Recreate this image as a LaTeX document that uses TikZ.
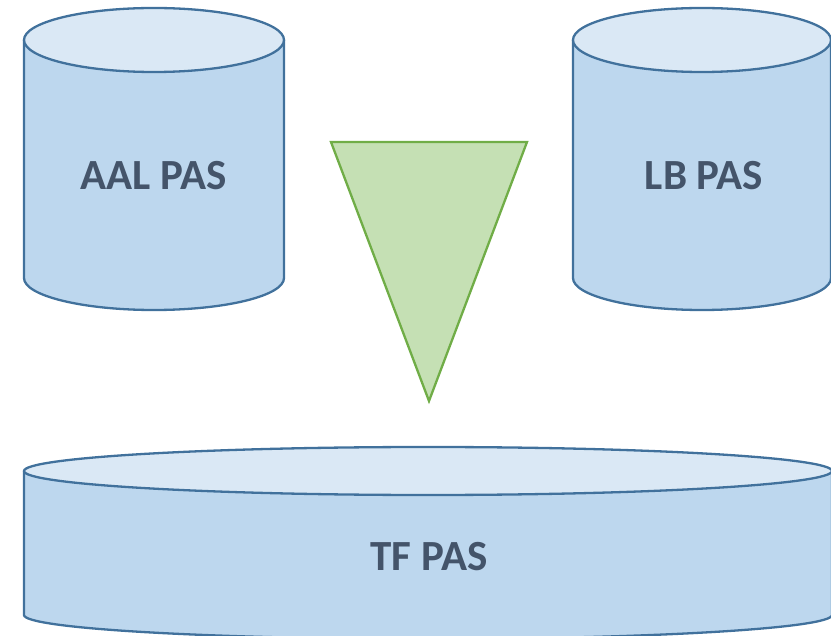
\documentclass[tikz,border=0pt]{standalone}
\usepackage{fontspec}
\setmainfont{Carlito}

\definecolor{drumside}{HTML}{BDD7EE}
\definecolor{drumtop}{HTML}{DAE8F5}
\definecolor{drumline}{HTML}{41719C}
\definecolor{tagtext}{HTML}{44546A}
\definecolor{funnelfill}{HTML}{C5E0B4}
\definecolor{funnelline}{HTML}{70AD47}

\begin{document}
\begin{tikzpicture}
  [x=1pt,y=1pt,line width=2.3pt,
   side/.style={fill=drumside,draw=drumline},
   lid/.style={fill=drumtop,draw=drumline},
   tag/.style={anchor=base,text=tagtext,font=\bfseries\fontsize{43}{43}\selectfont}]
  \useasboundingbox (0,0) rectangle (831,-636);
  % drums: centre x / top y / bottom y / radii
  \foreach \cx/\ty/\by/\rx/\ry in {154/-40/-278/130/32, 702/-40/-278/129/32, 428/-471/-615/404/24}
  {
    \filldraw[side] (\cx-\rx,\ty) -- (\cx-\rx,\by)
      arc[start angle=180,end angle=360,x radius=\rx,y radius=\ry] -- (\cx+\rx,\ty);
    \filldraw[lid] (\cx,\ty) ellipse[x radius=\rx,y radius=\ry];
  }
  \node[tag] (aal) at (154,-190) {AAL PAS};
  \node[tag] (lb) at (704,-190) {LB PAS};
  \node[tag] (tf) at (429,-570) {TF PAS};
  % funnel
  \coordinate (fa) at (331,-142);
  \coordinate (fb) at (527,-142);
  \coordinate (fc) at (429,-401);
  \filldraw[fill=funnelfill,draw=funnelline,line join=miter] (fa) -- (fb) -- (fc) -- cycle;
\end{tikzpicture}
\end{document}
